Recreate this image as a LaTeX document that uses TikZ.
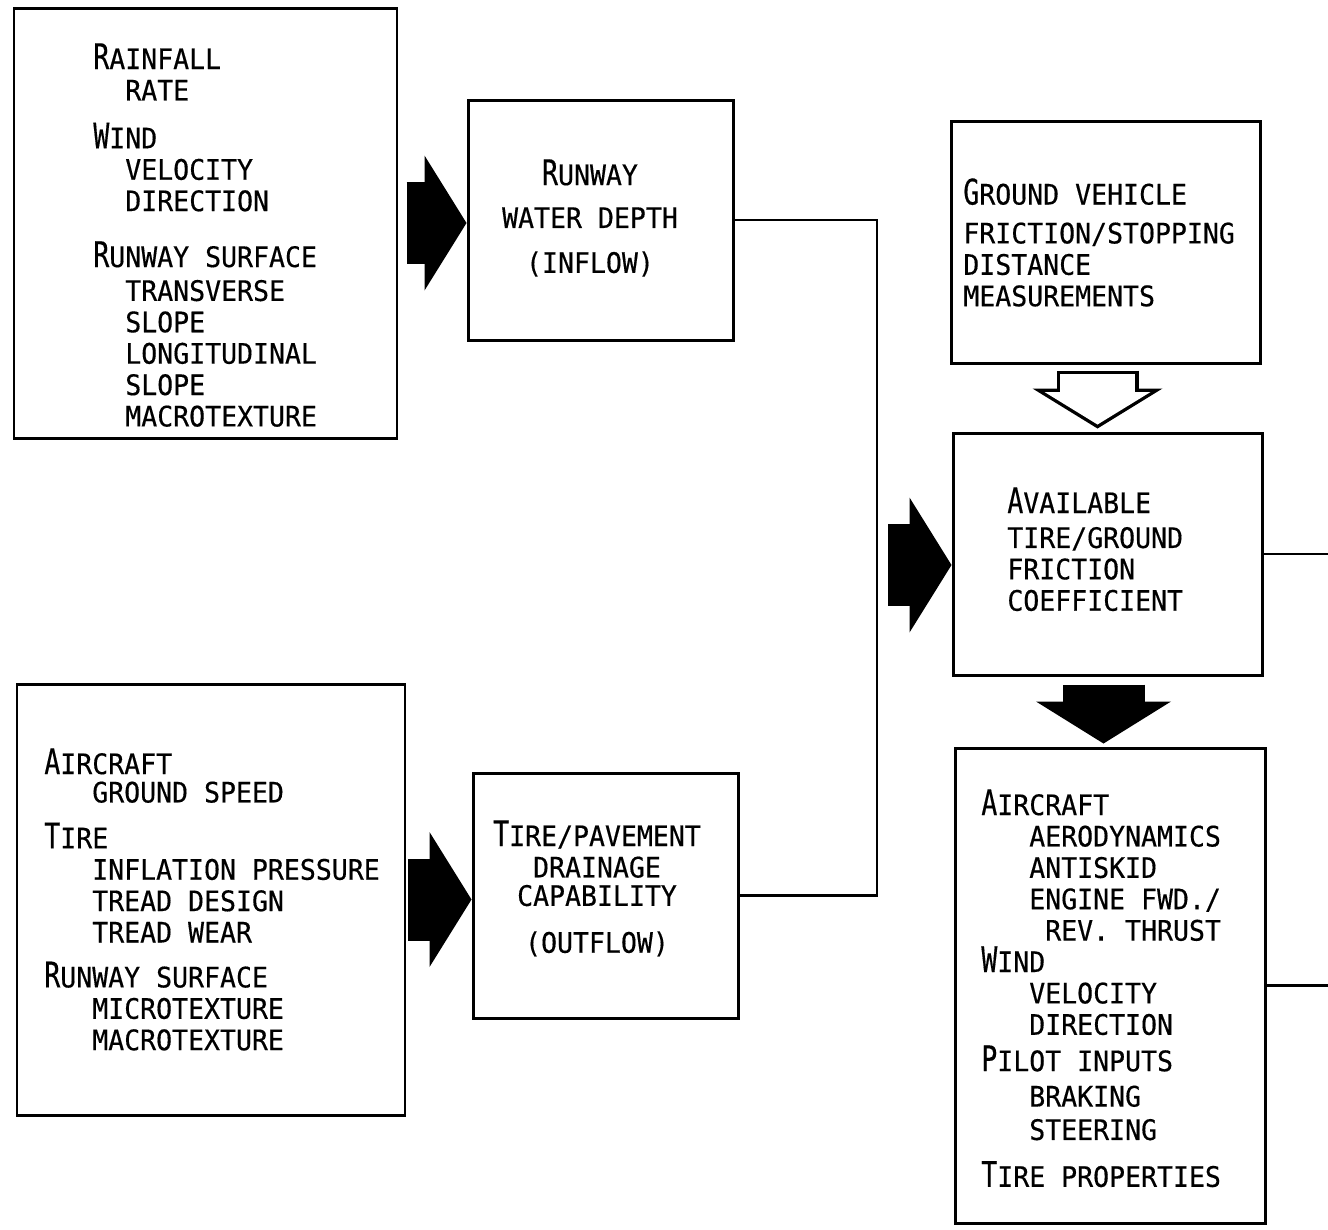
\documentclass[tikz,border=0pt]{standalone}
\usepackage{fontspec}
\usepackage{graphicx}
\usetikzlibrary{arrows.meta}
\newfontfamily\typefont[FakeStretch=0.94, FakeBold=0.4]{DejaVu Sans Mono}
\newcommand{\listfont}{\typefont\fontsize{16.06}{17.86}\selectfont\lineskiplimit=-50pt}
\newcommand{\bigini}[1]{\scalebox{1}[1.25]{#1}}
\tikzset{
    box/.style={draw, line width=1.7pt, inner sep=0pt},
    list/.style={inner sep=0pt, align=left, anchor=north west, font=\listfont},
    centerlist/.style={inner sep=0pt, align=center, anchor=north, font=\listfont},
    wire/.style={line width=1.3pt},
    bigarrow/.style={line width=1.64cm, -{Triangle[length=0.84cm, width=2.70cm, line width=0pt]}},
    hollowout/.style={line width=1.64cm, -{Triangle[length=0.80cm, width=2.60cm, line width=0pt]},
        shorten <=0.12cm, shorten >=0.06cm},
    hollowin/.style={white, line width=1.50cm, -{Triangle[length=0.65cm, width=2.12cm, line width=0pt]},
        shorten <=0.19cm, shorten >=0.14cm}
}
\begin{document}
\begin{tikzpicture}
    \useasboundingbox (0,0) rectangle (26.56,-24.58);

    \node [box, minimum width=7.66cm, minimum height=8.60cm] (weather) at (4.11,-4.46){};
    \node [box, minimum width=5.30cm, minimum height=4.80cm] (depth) at (12.01,-4.40){};
    \node [box, minimum width=6.18cm, minimum height=4.84cm] (vehicle) at (22.11,-4.84){};
    \node [box, minimum width=6.18cm, minimum height=4.84cm] (friction) at (22.15,-11.08){};
    \node [box, minimum width=7.76cm, minimum height=8.62cm] (aircraft) at (4.22,-17.99){};
    \node [box, minimum width=5.30cm, minimum height=4.90cm] (drainage) at (12.11,-17.91){};
    \node [box, minimum width=6.20cm, minimum height=9.50cm] (stopping) at (22.20,-19.71){};

    \node [list] (weathertext) at (1.86,-0.86){\bigini{R}AINFALL\\
        \phantom{AA}RATE\\[0.33cm]
        \bigini{W}IND\\
        \phantom{AA}VELOCITY\\
        \phantom{AA}DIRECTION\\[0.49cm]
        \bigini{R}UNWAY SURFACE\\[0.05cm]
        \phantom{AA}TRANSVERSE\\
        \phantom{AA}SLOPE\\
        \phantom{AA}LONGITUDINAL\\
        \phantom{AA}SLOPE\\
        \phantom{AA}MACROTEXTURE};
    \node [centerlist] (depthtext) at (11.80,-3.18){\bigini{R}UNWAY\\[0.23cm]
        WATER DEPTH\\[0.27cm]
        (INFLOW)};
    \node [list] (vehicletext) at (19.26,-3.56){\bigini{G}ROUND VEHICLE\\[0.15cm]
        FRICTION/STOPPING\\
        DISTANCE\\
        MEASUREMENTS};
    \node [list] (frictiontext) at (20.14,-9.74){\bigini{A}VAILABLE\\[0.07cm]
        TIRE/GROUND\\
        FRICTION\\
        COEFFICIENT};
    \node [list] (aircrafttext) at (0.88,-14.96){\bigini{A}IRCRAFT\\[-0.06cm]
        \phantom{AAA}GROUND SPEED\\[0.29cm]
        \bigini{T}IRE\\
        \phantom{AAA}INFLATION PRESSURE\\
        \phantom{AAA}TREAD DESIGN\\
        \phantom{AAA}TREAD WEAR\\[0.27cm]
        \bigini{R}UNWAY SURFACE\\
        \phantom{AAA}MICROTEXTURE\\
        \phantom{AAA}MACROTEXTURE};
    \node [centerlist] (drainagetext) at (11.94,-16.40){\bigini{T}IRE/PAVEMENT\\
        DRAINAGE\\[-0.06cm]
        CAPABILITY\\[0.31cm]
        (OUTFLOW)};
    \node [list] (stoppingtext) at (19.62,-15.78){\bigini{A}IRCRAFT\\
        \phantom{AAA}AERODYNAMICS\\
        \phantom{AAA}ANTISKID\\
        \phantom{AAA}ENGINE FWD./\\
        \phantom{AAAA}REV. THRUST\\
        \bigini{W}IND\\
        \phantom{AAA}VELOCITY\\
        \phantom{AAA}DIRECTION\\[0.10cm]
        \bigini{P}ILOT INPUTS\\[0.08cm]
        \phantom{AAA}BRAKING\\[0.04cm]
        \phantom{AAA}STEERING\\[0.31cm]
        \bigini{T}IRE PROPERTIES};

    \coordinate (bus) at (17.54,0);
    \coordinate (edge) at (26.56,0);
    \coordinate (feed) at ([yshift=-0.22cm]friction.west);

    \draw [wire] (depth.east) -| (bus |- drainage.east) -- (drainage.east);
    \draw [wire] (friction.east) -- (friction.east -| edge);
    \draw [wire] (stopping.east) -- (stopping.east -| edge);

    \draw [bigarrow, shorten <=0.16cm] (weather.east) -- (weather.east -| depth.west);
    \draw [bigarrow, shorten <=0.04cm] (aircraft.east) -- (aircraft.east -| drainage.west);
    \draw [bigarrow, shorten <=0.22cm] (bus |- feed) -- (feed);
    \draw [bigarrow, shorten <=0.16cm, shorten >=0.06cm] ([xshift=-0.08cm]friction.south) -- ([xshift=-0.08cm]friction.south |- stopping.north);
    \draw [hollowout] ([xshift=-0.16cm]vehicle.south) -- ([xshift=-0.16cm]vehicle.south |- friction.north);
    \draw [hollowin] ([xshift=-0.16cm]vehicle.south) -- ([xshift=-0.16cm]vehicle.south |- friction.north);
\end{tikzpicture}
\end{document}
